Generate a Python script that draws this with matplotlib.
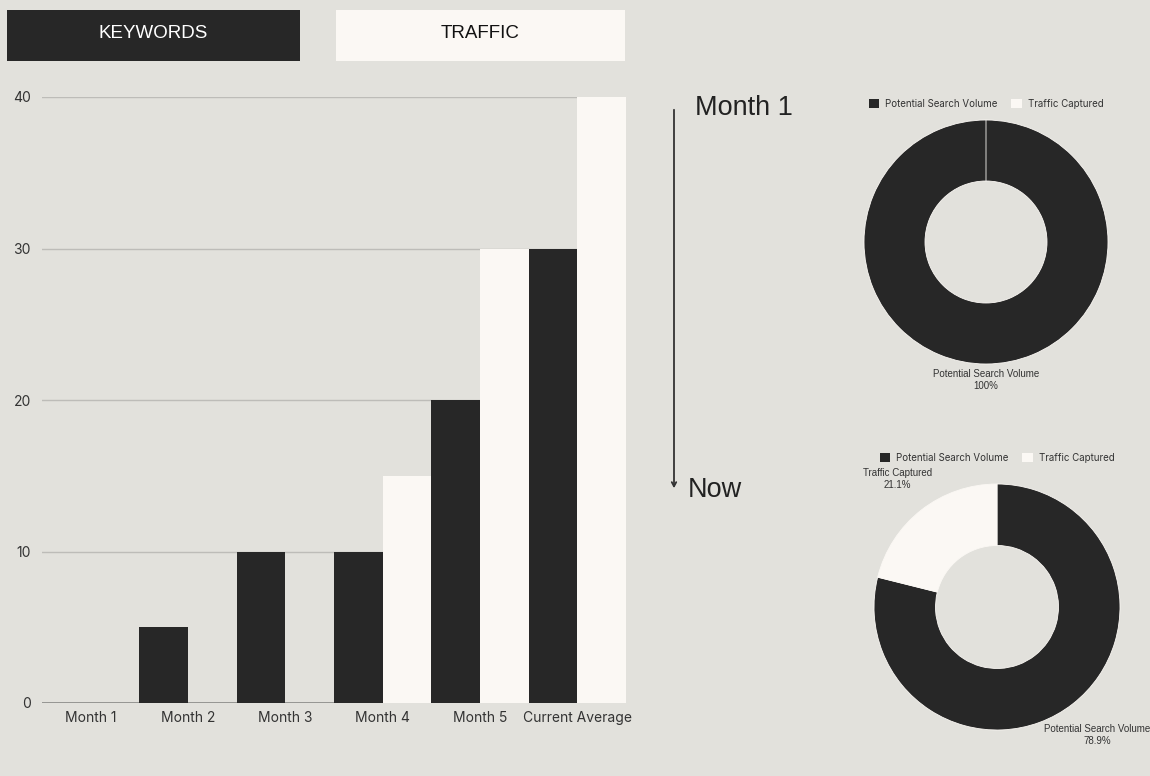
import numpy as np
import matplotlib
matplotlib.use("Agg")
import matplotlib.pyplot as plt
from matplotlib.patches import Rectangle, FancyArrowPatch

# data
months = ["Month 1", "Month 2", "Month 3", "Month 4", "Month 5", "Current Average"]
keywords = [0, 5, 10, 10, 20, 30]
traffic = [0, 0, 0, 15, 30, 40]
pie_names = ["Potential Search Volume", "Traffic Captured"]
pie_start = [100, 0]
pie_now = [78.9, 21.1]

BG = "#E2E1DC"
DARK = "#272727"
LIGHT = "#FBF8F4"
W, H = 1150, 776


def box(x0, y0, x1, y1):
    # pixel box (top-left origin) -> figure fraction rect
    return [x0 / W, 1 - y1 / H, (x1 - x0) / W, (y1 - y0) / H]


def pt(x, y):
    return (x / W, 1 - y / H)


fig = plt.figure(figsize=(11.5, 7.76), dpi=100, facecolor=BG)

# toggle buttons
fig.add_artist(Rectangle(pt(7, 61), 293 / W, 51 / H, transform=fig.transFigure,
                         facecolor=DARK, edgecolor="none"))
fig.add_artist(Rectangle(pt(336, 61), 289 / W, 51 / H, transform=fig.transFigure,
                         facecolor=LIGHT, edgecolor="none"))
fig.text(*pt(153, 34), "KEYWORDS", color="white", fontsize=13.5,
         family="Liberation Sans", ha="center", va="center")
fig.text(*pt(480, 34), "TRAFFIC", color="#111111", fontsize=13.5,
         family="Liberation Sans", ha="center", va="center")

# bar chart
ax = fig.add_axes(box(42, 97, 626, 703))
ax.set_facecolor(BG)
x = np.arange(len(months))
ax.bar(x - 0.25, keywords, width=0.5, color=DARK, zorder=3)
ax.bar(x + 0.25, traffic, width=0.5, color=LIGHT, zorder=3)
ax.set_xlim(-0.5, len(months) - 0.5)
ax.set_ylim(0, 40)
ax.set_yticks([0, 10, 20, 30, 40])
ax.set_xticks(x)
ax.set_xticklabels(months)
ax.yaxis.grid(True, color="#BDBCB8", linewidth=1, zorder=0)
ax.axhline(0, color="#8A8A88", linewidth=1.2, zorder=2)
for s in ax.spines.values():
    s.set_visible(False)
ax.tick_params(length=0, colors="#333333", labelsize=10)
ax.tick_params(axis="y", pad=8)
ax.tick_params(axis="x", pad=6)
for lab in ax.get_xticklabels() + ax.get_yticklabels():
    lab.set_family("Inter")

# timeline arrow
fig.add_artist(FancyArrowPatch(pt(674, 107), pt(674, 491), transform=fig.transFigure,
                               arrowstyle="->,head_length=3,head_width=1.6",
                               color="#333333", linewidth=1.3))
fig.text(*pt(695, 108), "Month 1", fontsize=19.5, color="#222222",
         family="Liberation Sans", ha="left", va="center")
fig.text(*pt(688, 490), "Now", fontsize=19.5, color="#222222",
         family="Liberation Sans", ha="left", va="center")


def donut(cx, cy, r, values, leg_y, label_dist):
    pax = fig.add_axes(box(cx - r, cy - r, cx + r, cy + r))
    pax.set_xlim(-1, 1)
    pax.set_ylim(-1, 1)
    pax.axis("off")
    labels = [f"{n}\n{v:g}%" if v > 0 else "" for n, v in zip(pie_names, values)]
    wedges, _ = pax.pie(values, labels=labels, colors=[DARK, LIGHT], startangle=90,
                        counterclock=False, radius=1, labeldistance=label_dist,
                        wedgeprops=dict(width=0.5, edgecolor=LIGHT, linewidth=0.6),
                        textprops=dict(ha="center", va="center", fontsize=7,
                                       color="#333333", family="Liberation Sans",
                                       linespacing=1.3))
    pax.set_xlim(-1, 1)
    pax.set_ylim(-1, 1)
    leg = pax.legend(wedges, pie_names, loc="center", ncol=2, frameon=False,
                     bbox_to_anchor=(0.5, 1 - (leg_y - (cy - r)) / (2 * r)),
                     fontsize=7, handlelength=1.1, handleheight=1.1,
                     columnspacing=1.4, handletextpad=0.6)
    for t in leg.get_texts():
        t.set_color("#333333")
        t.set_family("Inter")
    for h in leg.legend_handles:
        h.set_edgecolor("none")


donut(986, 242, 122, pie_start, 104, 1.13)
donut(997, 607, 123, pie_now, 458, 1.32)

fig.savefig("out.png", dpi=100, facecolor=BG)
